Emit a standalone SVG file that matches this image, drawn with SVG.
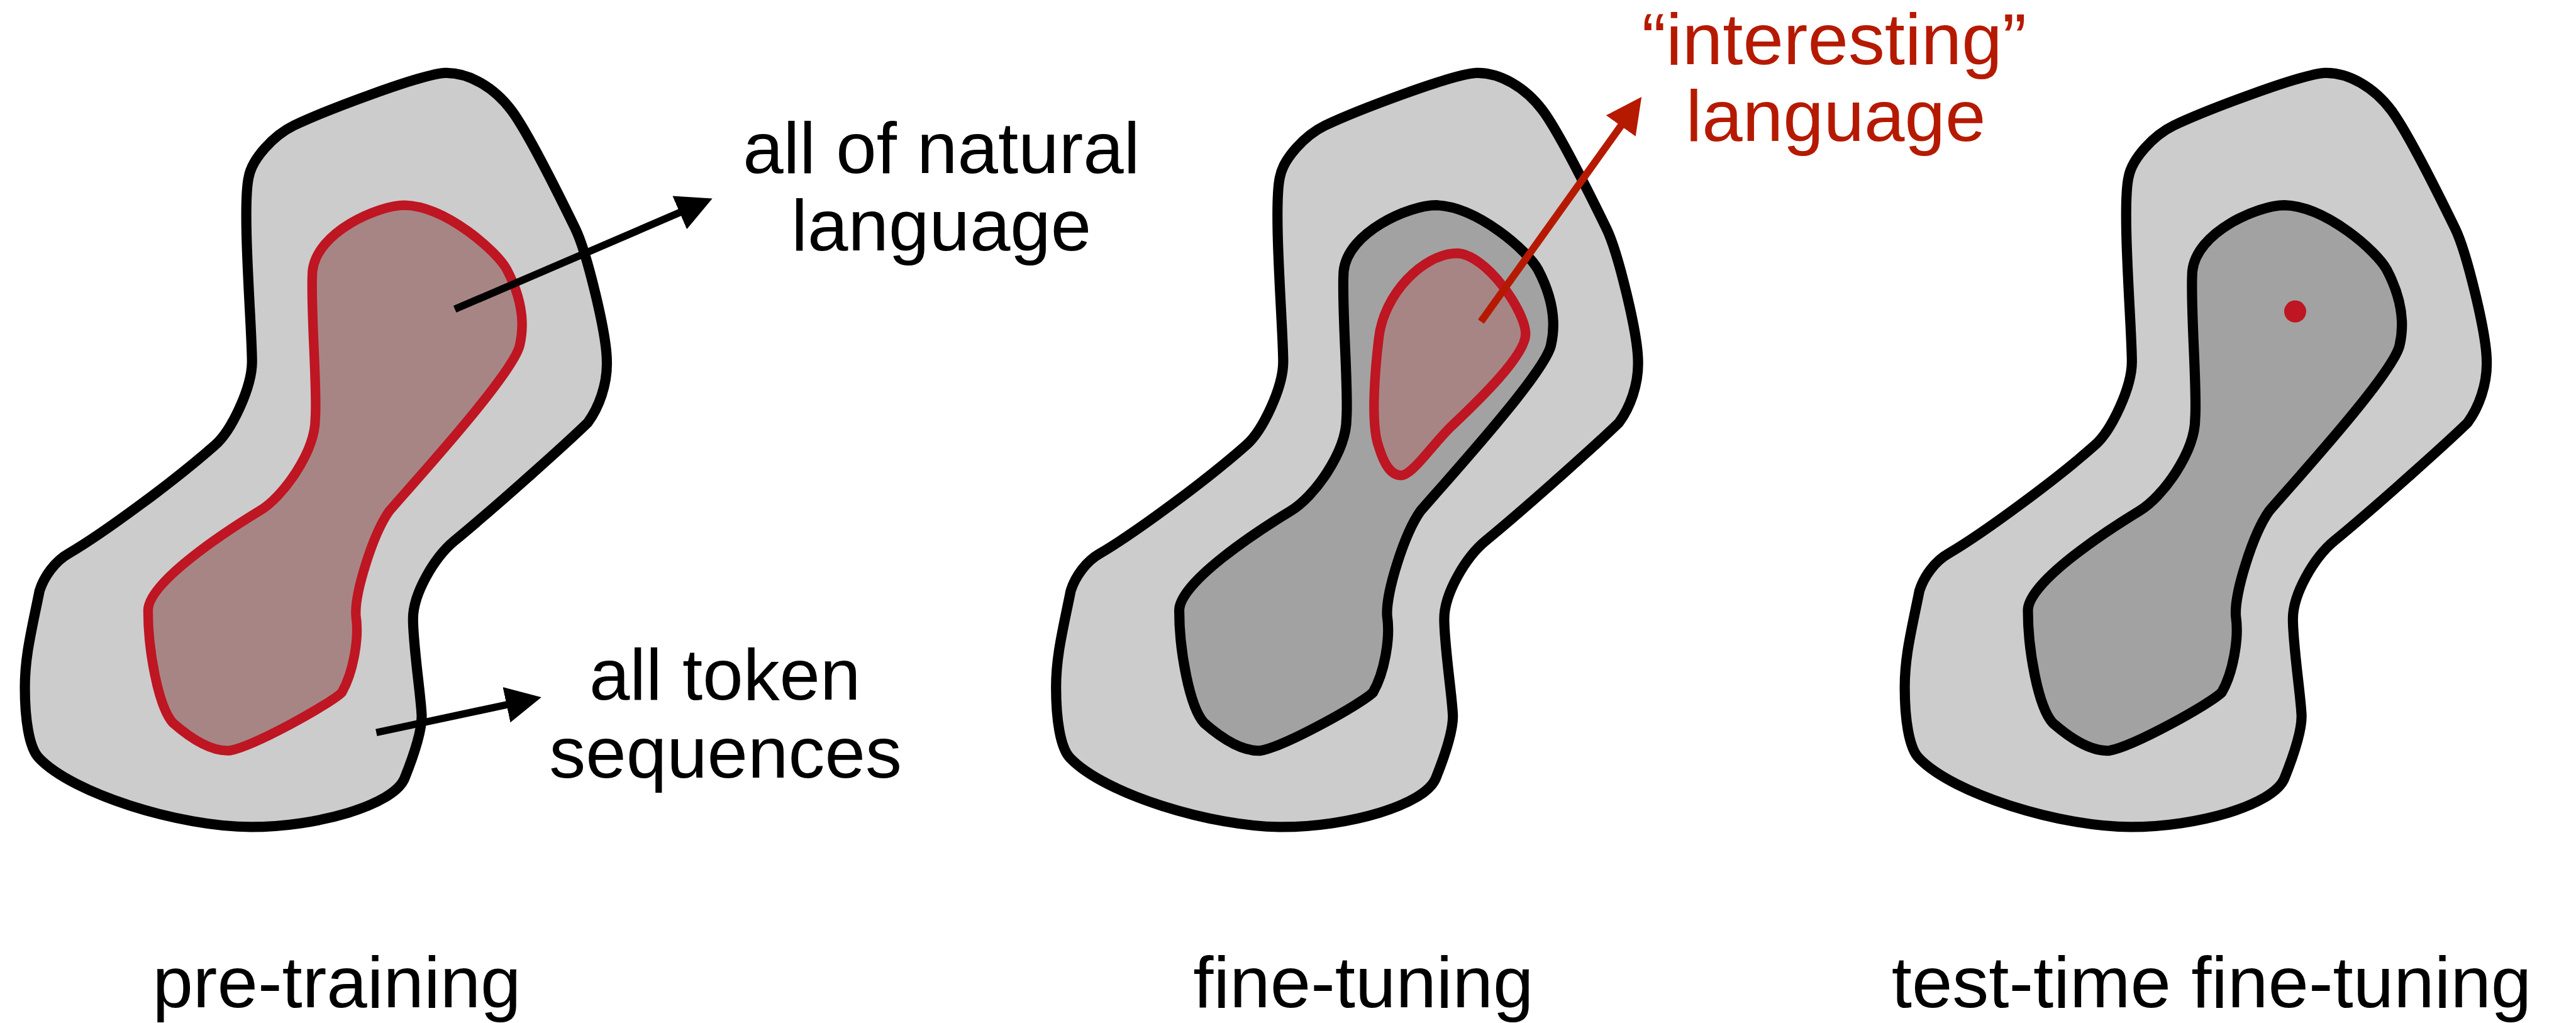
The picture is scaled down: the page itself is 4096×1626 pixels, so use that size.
<svg xmlns="http://www.w3.org/2000/svg" width="4096" height="1626" viewBox="0 0 4096 1626">
<defs>
<style>
.outer{fill:#cccccc;stroke:#000;stroke-width:18;stroke-linejoin:round}
.inner{fill:#a2a2a2;stroke:#000;stroke-width:18;stroke-linejoin:round}
.redreg{fill:#a88585;stroke:#be1622;stroke-width:17;stroke-linejoin:round}
.txt{font-family:"Liberation Sans",Arial,Helvetica,sans-serif;font-size:129px;text-anchor:middle;fill:#000}
.red{fill:#b51a00}
.arr{stroke:#000;stroke-width:13;fill:none}
.arrR{stroke:#b51a00;stroke-width:13;fill:none}
</style>
<path id="outerShape" d="M 788,129 C 745,131 575,196 520,222 C 485,239 446,280 440,314 C 428,370 446,580 446,640 C 446,685 410,762 380,788 C 310,850 182,944 122,979 C 97,993 78,1020 70,1045 C 56,1115 44,1160 44,1216 C 44,1270 51,1323 69,1341 C 130,1405 320,1463 444,1463 C 560,1463 696,1425 716,1377 C 730,1342 749,1290 746,1261 C 744,1225 731,1140 731,1095 C 731,1050 769,986 804,957 C 884,891 1005,782 1040,748 C 1060,721 1075,680 1074,640 C 1074,590 1038,445 1018,404 C 978,322 929,227 905,195 C 875,155 830,128 788,129 Z"/>
<path id="innerShape" d="M 716,363 C 670,363 560,410 553,480 C 549,540 562,690 558,740 C 558,800 500,880 459,904 C 400,940 262,1030 262,1080 C 262,1150 280,1250 306,1279 C 330,1300 370,1330 406,1328 C 450,1320 585,1245 605,1225 C 625,1190 636,1130 630,1090 C 627,1050 660,945 689,904 C 730,856 910,660 920,610 C 928,575 925,530 897,477 C 880,445 790,365 716,363 Z"/>
<marker id="ah" viewBox="0 0 63 64" refX="23" refY="32" markerWidth="63" markerHeight="64" markerUnits="userSpaceOnUse" orient="auto"><path d="M0,0 L63,32 L0,64 Z" fill="#000"/></marker>
<marker id="ahR" viewBox="0 0 63 64" refX="23" refY="32" markerWidth="63" markerHeight="64" markerUnits="userSpaceOnUse" orient="auto"><path d="M0,0 L63,32 L0,64 Z" fill="#b51a00"/></marker>
</defs>
<g transform="scale(0.89844)">
<g id="pre-training">
<use href="#outerShape" class="outer"/>
<use href="#innerShape" class="redreg"/>
</g>
<g id="fine-tuning" transform="translate(1825,0)">
<use href="#outerShape" class="outer"/>
<use href="#innerShape" class="inner"/>
<path class="redreg" d="M 754,448 C 695,448 623,520 615,600 C 609,650 600,750 615,790 C 625,823 637,841 655,841 C 675,841 715,780 746,752 C 785,715 875,630 875,591 C 875,550 805,450 754,448 Z"/>
</g>
<g id="test-time" transform="translate(3327,0)">
<use href="#outerShape" class="outer"/>
<use href="#innerShape" class="inner"/>
<circle cx="735" cy="551" r="19.5" fill="#be1622"/>
</g>
<g id="connectors">
<line class="arr" x1="805" y1="547" x2="1224" y2="367" marker-end="url(#ah)"/>
<line class="arr" x1="666" y1="1296" x2="919" y2="1242" marker-end="url(#ah)"/>
<line class="arrR" x1="2621" y1="569" x2="2882" y2="204" marker-end="url(#ahR)"/>
</g>
<g id="labels">
<text class="txt" x="1666" y="306">all of natural</text>
<text class="txt" x="1666" y="443">language</text>
<text class="txt" x="1283" y="1238">all token</text>
<text class="txt" x="1284" y="1376">sequences</text>
<text class="txt red" x="3246" y="113">“interesting”</text>
<text class="txt red" x="3249" y="249">language</text>
<text class="txt" x="596" y="1782">pre-training</text>
<text class="txt" x="2413" y="1782">fine-tuning</text>
<text class="txt" x="3914" y="1782">test-time fine-tuning</text>
</g>
</g>
</svg>
